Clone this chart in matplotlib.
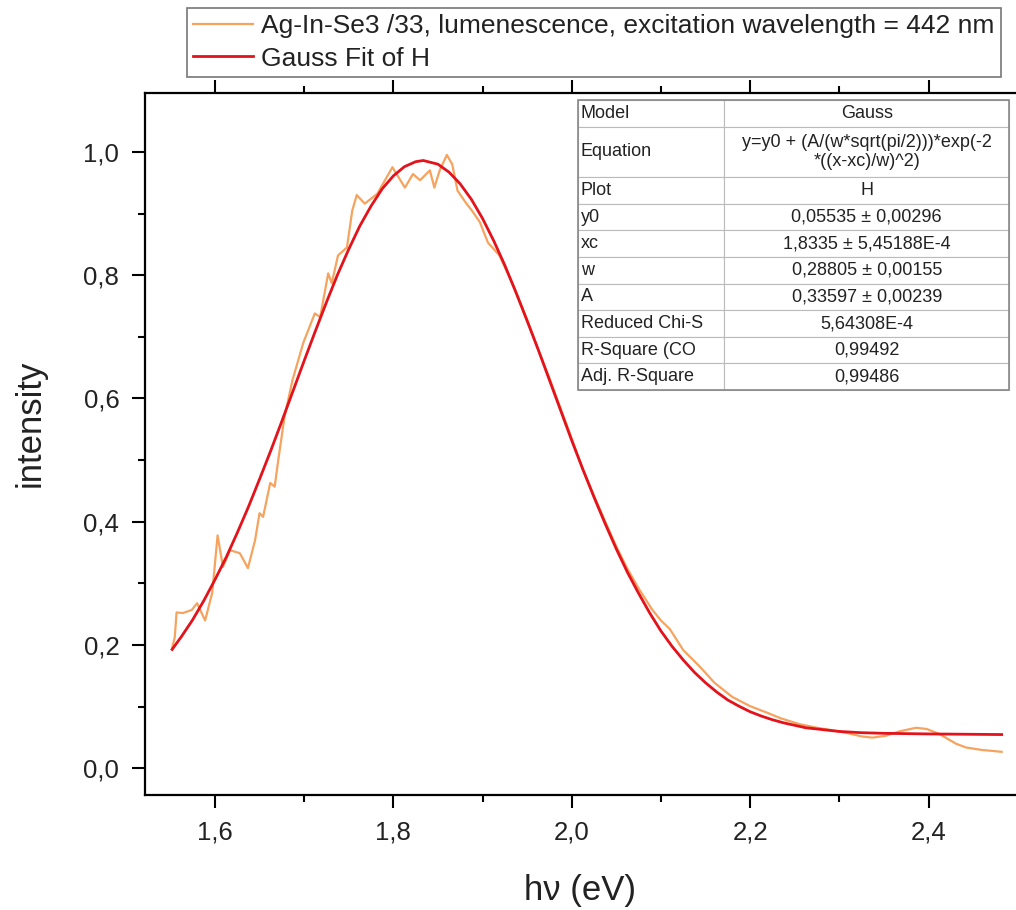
import matplotlib
matplotlib.use("Agg")
import matplotlib.pyplot as plt
from matplotlib.ticker import MultipleLocator, FuncFormatter

plt.rcParams['font.family'] = ['Liberation Sans', 'DejaVu Sans']

energy = [1.552, 1.555, 1.557, 1.564, 1.574, 1.580, 1.589, 1.597, 1.603, 1.609,
          1.617, 1.628, 1.637, 1.645, 1.650, 1.654, 1.662, 1.667, 1.671, 1.678,
          1.687, 1.699, 1.712, 1.718, 1.727, 1.731, 1.738, 1.748, 1.754, 1.759,
          1.768, 1.782, 1.799, 1.813, 1.822, 1.830, 1.841, 1.846, 1.852, 1.860,
          1.866, 1.872, 1.882, 1.888, 1.897, 1.906, 1.919, 1.935, 1.950, 1.962,
          1.975, 1.988, 2.000, 2.012, 2.025, 2.038, 2.050, 2.062, 2.075, 2.090,
          2.100, 2.110, 2.125, 2.143, 2.160, 2.180, 2.200, 2.218, 2.235, 2.255,
          2.275, 2.292, 2.310, 2.325, 2.337, 2.352, 2.367, 2.386, 2.398, 2.412,
          2.431, 2.442, 2.460, 2.482]
intensity = [0.195, 0.213, 0.253, 0.252, 0.257, 0.268, 0.240, 0.285, 0.378, 0.327,
             0.354, 0.349, 0.325, 0.370, 0.414, 0.408, 0.463, 0.457, 0.500, 0.570,
             0.630, 0.690, 0.738, 0.732, 0.803, 0.787, 0.832, 0.845, 0.905, 0.930,
             0.916, 0.932, 0.975, 0.942, 0.964, 0.954, 0.970, 0.942, 0.970, 0.995,
             0.980, 0.937, 0.916, 0.905, 0.886, 0.853, 0.832, 0.782, 0.728, 0.681,
             0.633, 0.582, 0.535, 0.487, 0.442, 0.399, 0.360, 0.325, 0.292, 0.258,
             0.240, 0.226, 0.192, 0.166, 0.139, 0.116, 0.101, 0.091, 0.081, 0.072,
             0.066, 0.062, 0.057, 0.052, 0.050, 0.053, 0.060, 0.066, 0.064, 0.056,
             0.040, 0.034, 0.030, 0.027]

# Gauss fit curve
fit_energy = [1.552, 1.5625, 1.575, 1.5875, 1.600, 1.6125, 1.625, 1.6375, 1.650, 1.6625,
              1.675, 1.6875, 1.700, 1.7125, 1.725, 1.7375, 1.750, 1.7625, 1.775, 1.7875,
              1.800, 1.8125, 1.825, 1.8335, 1.850, 1.8625, 1.875, 1.8875, 1.900, 1.9125,
              1.925, 1.9375, 1.950, 1.9625, 1.975, 1.9875, 2.000, 2.0125, 2.025, 2.0375,
              2.050, 2.0625, 2.075, 2.0875, 2.100, 2.1125, 2.125, 2.1375, 2.150, 2.1625,
              2.175, 2.1875, 2.200, 2.2125, 2.225, 2.2375, 2.250, 2.2625, 2.275, 2.300,
              2.325, 2.350, 2.400, 2.482]
fit_intensity = [0.193, 0.214, 0.241, 0.272, 0.306, 0.342, 0.382, 0.424, 0.469, 0.515,
                 0.563, 0.612, 0.661, 0.709, 0.756, 0.801, 0.842, 0.880, 0.912, 0.940,
                 0.961, 0.976, 0.984, 0.986, 0.980, 0.967, 0.948, 0.923, 0.892, 0.856,
                 0.816, 0.772, 0.726, 0.679, 0.630, 0.581, 0.532, 0.485, 0.440, 0.397,
                 0.356, 0.318, 0.284, 0.252, 0.223, 0.198, 0.176, 0.156, 0.139, 0.124,
                 0.111, 0.101, 0.092, 0.085, 0.079, 0.074, 0.070, 0.066, 0.064, 0.060,
                 0.058, 0.057, 0.056, 0.055]

legend_labels = ["Ag-In-Se3 /33, lumenescence, excitation wavelength = 442 nm",
                 "Gauss Fit of H"]

table_rows = ["Model", "Equation", "Plot", "y0", "xc", "w", "A",
              "Reduced Chi-S", "R-Square (CO", "Adj. R-Square"]
table_vals = ["Gauss", "y=y0 + (A/(w*sqrt(pi/2)))*exp(-2\n*((x-xc)/w)^2)", "H",
              "0,05535 \u00b1 0,00296", "1,8335 \u00b1 5,45188E-4",
              "0,28805 \u00b1 0,00155", "0,33597 \u00b1 0,00239",
              "5,64308E-4", "0,99492", "0,99486"]

fig = plt.figure(figsize=(10.16, 9.10), dpi=100)
ax = fig.add_axes([0.1427, 0.1264, 0.859, 0.7711])

l1, = ax.plot(energy, intensity, color='#F5A35E', lw=1.6, label=legend_labels[0])
l2, = ax.plot(fit_energy, fit_intensity, color='#E3121B', lw=2.0, label=legend_labels[1])

ax.set_xlim(1.5216, 2.500)
ax.set_ylim(-0.043, 1.095)
ax.xaxis.set_major_locator(MultipleLocator(0.2))
ax.xaxis.set_minor_locator(MultipleLocator(0.1))
ax.yaxis.set_major_locator(MultipleLocator(0.2))
ax.yaxis.set_minor_locator(MultipleLocator(0.1))
fmt = FuncFormatter(lambda v, p: f"{v:.1f}".replace('.', ','))
ax.xaxis.set_major_formatter(fmt)
ax.yaxis.set_major_formatter(fmt)
ax.tick_params(which='both', direction='out', top=True, right=True, width=1.5,
               labelsize=18.5, colors='black', labelcolor='#222222')
ax.tick_params(which='major', length=9.5, pad=9)
ax.tick_params(which='minor', length=5)
for s in ax.spines.values():
    s.set_linewidth(1.6)

ax.set_xlabel("h\u03bd (eV)", fontsize=25, color='#222222')
ax.set_ylabel("intensity", fontsize=25, color='#222222')
ax.xaxis.set_label_coords(0.499, -0.112)
ax.yaxis.set_label_coords(-0.113, 0.53)

leg = fig.legend(handles=[l1, l2], loc='upper left', bbox_to_anchor=(0.184, 0.991),
                 borderaxespad=0, fontsize=19, frameon=True, fancybox=False,
                 edgecolor='#555555', handlelength=2.3, handletextpad=0.3,
                 labelspacing=0.33, borderpad=0.22)
leg.get_frame().set_linewidth(1.2)
for t in leg.get_texts():
    t.set_color('#222222')

# fit result table
heights = [1, 1.9, 1, 1, 1, 1, 1, 1, 1, 1]
cell_text = [[r, v] for r, v in zip(table_rows, table_vals)]
tab = ax.table(cellText=cell_text, colWidths=[0.34, 0.66],
               bbox=[0.496, 0.577, 0.494, 0.4135], cellLoc='center')
tab.auto_set_font_size(False)
tab.set_fontsize(13)
for (r, c), cell in tab.get_celld().items():
    cell.set_height(heights[r])
    cell.set_edgecolor('#BBBBBB')
    cell.set_linewidth(0.8)
    cell.get_text().set_color('#222222')
    cell.PAD = 0.02
    if c == 0:
        cell._loc = 'left'
        cell.get_text().set_ha('left')
fig.patches.append(plt.Rectangle((0.496 * 0.859 + 0.1427, 0.577 * 0.7711 + 0.1264),
                                 0.494 * 0.859, 0.4135 * 0.7711, transform=fig.transFigure,
                                 fill=False, edgecolor='#888888', lw=1.2))

fig.savefig("out.png", dpi=100)
